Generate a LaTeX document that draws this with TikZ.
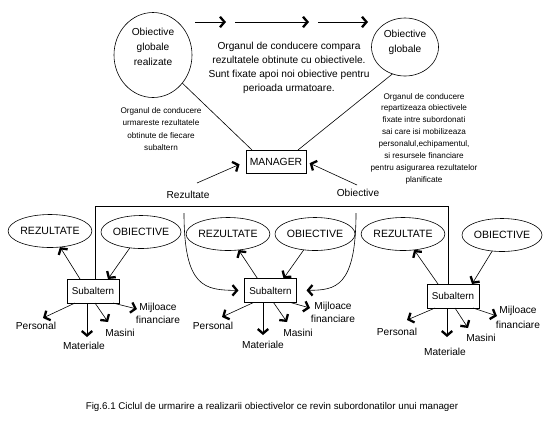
\documentclass[tikz,border=0pt]{standalone}
\usepackage{fontspec}
\setmainfont{Liberation Sans}
\usetikzlibrary{shapes.geometric,arrows.meta}
\begin{document}
\begin{tikzpicture}[x=1bp,y=-1bp,
  every node/.style={inner sep=0pt, outer sep=0pt},
  lbl/.style={font=\fontsize{10.2}{14}\selectfont, align=center},
  small/.style={font=\fontsize{8.2}{12.3}\selectfont, align=center},
  ell/.style={draw, ellipse, line width=0.6bp, minimum width=80bp, minimum height=33bp, font=\fontsize{10.6}{12}\selectfont},
  box/.style={draw, rectangle, line width=0.6bp, minimum width=52bp, minimum height=24bp, font=\fontsize{9.9}{12}\selectfont},
  ln/.style={line width=0.6bp},
  arr/.style={line width=0.6bp, -{Straight Barb[length=4.5bp,width=10.5bp,line width=2.3bp]}},
]
\useasboundingbox (0,0) rectangle (552,432);

% top level
\node[draw, ellipse, line width=0.6bp, minimum width=78bp, minimum height=85bp] (ogr) at (153,55) {};
\node[lbl, font=\fontsize{10.2}{15}\selectfont] (ogrt) at (153,47) {Obiective\\globale\\realizate};
\node[draw, ellipse, line width=0.6bp, minimum width=67bp, minimum height=58bp] (og) at (405,47) {};
\node[lbl, font=\fontsize{10.2}{15}\selectfont] (ogt) at (405,42.5) {Obiective\\globale};

\coordinate (a1s) at (195,22); \coordinate (a1e) at (226,22);
\coordinate (a2s) at (235,22); \coordinate (a2e) at (309,22);
\coordinate (a3s) at (318,22); \coordinate (a3e) at (368,22);
\draw[arr] (a1s) -- (a1e);
\draw[arr] (a2s) -- (a2e);
\draw[arr] (a3s) -- (a3e);

\node[lbl] (cmp) at (289,67.5) {Organul de conducere compara\\rezultatele obtinute cu obiectivele.\\Sunt fixate apoi noi obiective pentru\\perioada urmatoare.};

\node[small] (urm) at (161,129) {Organul de conducere\\urmareste rezultatele\\obtinute de fiecare\\subaltern};
\node[small, font=\fontsize{8.2}{11.9}\selectfont] (rep) at (424,138.5) {Organul de conducere\\repartizeaza obiectivele\\fixate intre subordonati\\sai care isi mobilizeaza\\personalul,echipamentul,\\si resursele financiare\\pentru asigurarea rezultatelor\\planificate};

\node[box, minimum width=60bp, minimum height=23bp, font=\fontsize{10.4}{12}\selectfont] (man) at (276,161.5) {MANAGER};
\draw[ln] (ogr) -- ([xshift=6bp]man.north west);
\draw[ln] (og.245) -- ([xshift=-8bp]man.north east);

\node[lbl] (rz) at (188,195) {Rezultate};
\node[lbl] (ob) at (358,193) {Obiective};
\coordinate (rzs) at (197,183);
\coordinate (obs) at (357,185);
\draw[arr, shorten >=7bp] (rzs) -- (man.west);
\draw[arr, shorten >=4bp] (obs) -- (man.east);

% frame
\coordinate (fl) at (95,206);
\coordinate (fr) at (448,206);

% group 1
\node[box] (s1) at (93,291) {Subaltern};
\node[ell] (r1) at (50,231) {REZULTATE};
\node[ell] (o1) at (141,232) {OBIECTIVE};
\draw[arr] ([xshift=-13bp]s1.north) -- (r1);
\draw[arr] (o1) -- ([xshift=15bp]s1.north);
\node[lbl] (p1) at (36,326) {Personal};
\node[lbl] (m1) at (84,346) {Materiale};
\node[lbl] (ms1) at (120,333) {Masini};
\node[lbl, font=\fontsize{10.2}{13}\selectfont] (f1) at (158,313.5) {Mijloace\\financiare};
\coordinate (tp1) at (43,318);
\coordinate (tm1) at (87,337);
\coordinate (tms1) at (108,322);
\coordinate (tf1) at (137,309);
\draw[arr] ([xshift=-18bp]s1.south) -- (tp1);
\draw[arr] (s1.south -| tm1) -- (tm1);
\draw[arr] ([xshift=2bp]s1.south) -- (tms1);
\draw[arr] ([xshift=20bp]s1.south) -- (tf1);

% group 2
\node[box] (s2) at (270.5,290.5) {Subaltern};
\node[ell] (r2) at (228,234) {REZULTATE};
\node[ell] (o2) at (315,234) {OBIECTIVE};
\draw[arr] ([xshift=-13bp]s2.north) -- (r2);
\draw[arr] (o2) -- ([xshift=13bp]s2.north);
\node[lbl] (p2) at (213,326) {Personal};
\node[lbl] (m2) at (263,345) {Materiale};
\node[lbl] (ms2) at (298,333) {Masini};
\node[lbl, font=\fontsize{10.2}{13}\selectfont] (f2) at (333,312) {Mijloace\\financiare};
\coordinate (tp2) at (222,317);
\coordinate (tm2) at (263,335);
\coordinate (tms2) at (287,322);
\coordinate (tf2) at (310,308);
\draw[arr] ([xshift=-17bp]s2.south) -- (tp2);
\draw[arr] (s2.south -| tm2) -- (tm2);
\draw[arr] ([xshift=3bp]s2.south) -- (tms2);
\draw[arr] ([xshift=20bp]s2.south) -- (tf2);

% group 3
\node[box] (s3) at (453,296) {Subaltern};
\node[ell] (r3) at (403,234) {REZULTATE};
\node[ell] (o3) at (502,235) {OBIECTIVE};
\draw[arr] ([xshift=-15bp]s3.north) -- (r3);
\draw[arr] (o3) -- ([xshift=19bp]s3.north);
\node[lbl] (p3) at (397,332) {Personal};
\node[lbl] (m3) at (445,352) {Materiale};
\node[lbl] (ms3) at (481,338) {Masini};
\node[lbl, font=\fontsize{10.2}{15}\selectfont] (f3) at (518,317) {Mijloace\\financiare};
\coordinate (tp3) at (407,320);
\coordinate (tm3) at (447,337);
\coordinate (tms3) at (468,328);
\coordinate (tf3) at (497,316);
\draw[arr] ([xshift=-18bp]s3.south) -- (tp3);
\draw[arr] (s3.south -| tm3) -- (tm3);
\draw[arr] ([xshift=2bp]s3.south) -- (tms3);
\draw[arr] ([xshift=20bp]s3.south) -- (tf3);

% frame and curves
\draw[line width=0.8bp] (s1.north -| fl) -- (fl) -- (fr) -- (s3.north -| fr);
\coordinate (cl) at (184,213);
\coordinate (cr) at (356,213);
\draw[arr, shorten >=6bp] (cl) .. controls (184,288) and (205,290) .. (s2.west);
\draw[arr, shorten >=10bp] (cr) .. controls (356,288) and (335,290) .. (s2.east);

\node[font=\fontsize{9.8}{10}\selectfont] (cap) at (272,407) {Fig.6.1 Ciclul de urmarire a realizarii obiectivelor ce revin subordonatilor unui manager};
\end{tikzpicture}
\end{document}
